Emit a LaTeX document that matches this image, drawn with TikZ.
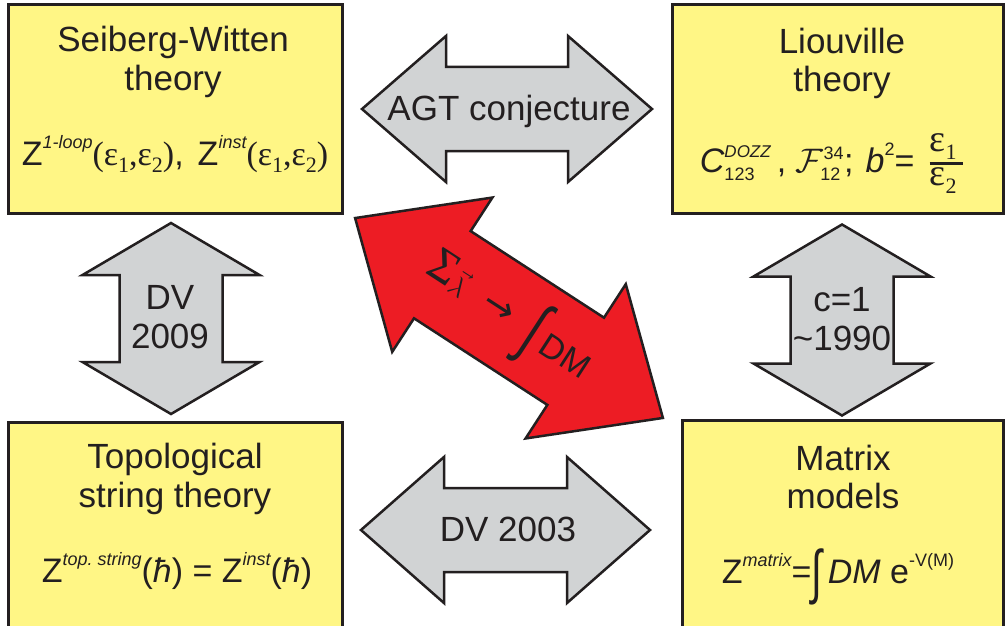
\RequirePackage{fix-cm}
\documentclass[tikz,border=0pt]{standalone}
\usepackage{graphicx}
\usepackage{fontspec}
\setmainfont{Liberation Sans}
\newfontfamily\serif{Liberation Serif}
\newfontfamily\dejavu{DejaVu Sans}
\definecolor{boxyellow}{RGB}{255,246,133}
\definecolor{arrowgray}{RGB}{209,211,212}
\definecolor{arrowred}{RGB}{237,28,36}
\definecolor{ink}{RGB}{35,31,32}
\newcommand\Sz[1]{\fontsize{#1}{#1}\selectfont}
\newcommand\Sup[1]{\raisebox{0.5em}{\Sz{18}\itshape #1}}
\newcommand\Eps[1]{{\serif ε}\raisebox{-0.22em}{\serif\Sz{22}#1}}
\newcommand\Integral{\raisebox{-0.28em}{\scalebox{1.15}[1.75]{∫}}}
\tikzset{
  box/.style={draw=ink, line width=3pt, fill=boxyellow, inner sep=0pt},
  arrowshape/.style={draw=ink, line width=2.5pt, line join=miter},
  title/.style={anchor=base, inner sep=0pt, text=ink, font=\Sz{35}},
  formula/.style={anchor=base, inner sep=0pt, text=ink, font=\Sz{34}},
  lab/.style={anchor=base, inner sep=0pt, text=ink, font=\Sz{35}}
}
\newcommand\DArrow[7]{% fill, center, angle, half length, head length, head half width, shaft half width
  \begin{scope}[shift={#2},rotate=#3]
    \draw[arrowshape,fill=#1] (-#4,0) -- ({-#4+#5},#6) -- ({-#4+#5},#7) -- ({#4-#5},#7) -- ({#4-#5},#6) -- (#4,0)
      -- ({#4-#5},-#6) -- ({#4-#5},-#7) -- ({-#4+#5},-#7) -- ({-#4+#5},-#6) -- cycle;
  \end{scope}}
\begin{document}
\begin{tikzpicture}[x=1pt,y=-1pt]
\useasboundingbox (0,0) rectangle (1006,626);
\fill[white] (0,0) rectangle (1006,626);
\clip (0,0) rectangle (1006,626);

% boxes
\node[box, minimum width=334pt, minimum height=208pt] (sw) at (175,109) {};
\node[box, minimum width=331pt, minimum height=208pt] (liou) at (837.5,109) {};
\node[box, minimum width=334pt, minimum height=220pt] (tst) at (175,532) {};
\node[box, minimum width=321pt, minimum height=222pt] (mm) at (842.5,531) {};

% arrows
\DArrow{arrowgray}{(507,109)}{0}{145}{84}{73}{42}
\DArrow{arrowgray}{(505.5,530)}{0}{144.5}{83}{73}{42}
\DArrow{arrowgray}{(171,318.5)}{90}{95.5}{52}{88.5}{51.5}
\DArrow{arrowgray}{(842,320)}{90}{95.5}{52}{88.5}{51.5}
\DArrow{arrowred}{(509,318)}{-33}{183.5}{104}{92}{52}

% box texts
\node[title] (sw1) at (173,52) {Seiberg-Witten};
\node[title] (sw2) at (173,90) {theory};
\node[formula] (swf) at (175,165) {Z\Sup{1-loop}{\serif(}\Eps1{\serif,}\Eps2{\serif)},\hspace{14pt}Z\Sup{inst}{\serif(}\Eps1{\serif,}\Eps2{\serif)}};

\node[title] (lv1) at (842,53) {Liouville};
\node[title] (lv2) at (842,92) {theory};
\node[formula] (lvf) at (832,172) {$\mbox{\itshape C}^{\mbox{\Sz{17}\itshape DOZZ}}_{\mbox{\Sz{18}123}}$\,, $\mathcal{F}^{\mbox{\Sz{18}34}}_{\mbox{\Sz{18}12}}$;\hspace{12pt}{\itshape b}\raisebox{0.5em}{\Sz{18}2}=\hspace{14pt}${\mbox{\Sz{38}\Eps1\,}\above 2.5pt\mbox{\Sz{38}\Eps2\,}}$};

\node[title] (ts1) at (175,468) {Topological};
\node[title] (ts2) at (175,507) {string theory};
\node[formula] (tsf) at (177,582) {Z\Sup{top.\ string}(\textit{ħ}) = Z\Sup{inst}(\textit{ħ})};

\node[title] (mm1) at (843,470) {Matrix};
\node[title] (mm2) at (843,508) {models};
\node[formula] (mmf) at (838,583) {Z\Sup{matrix}=\Integral\,\textit{DM} e\raisebox{0.5em}{\Sz{18}-V(M)}};

% arrow labels
\node[lab] (agt) at (509,120) {AGT conjecture};
\node[lab] (dv03) at (508,541) {DV 2003};
\node[lab] (dv09a) at (170,309) {DV};
\node[lab] (dv09b) at (170,348) {2009};
\node[lab] (c1a) at (842,311) {c=1};
\node[lab] (c1b) at (842,350) {\textasciitilde1990};
\node[rotate=-33, inner sep=0pt, text=ink] (red) at (508,318) {{\serif\Sz{48}Σ}\raisebox{-0.35em}{\Sz{28}$\vec{\lambda}$}\hspace{22pt}{\dejavu\Sz{38}→}\hspace{20pt}{\Sz{42}\Integral}\hspace{6pt}\raisebox{-0.5em}{\Sz{34}DM}};
\end{tikzpicture}
\end{document}
